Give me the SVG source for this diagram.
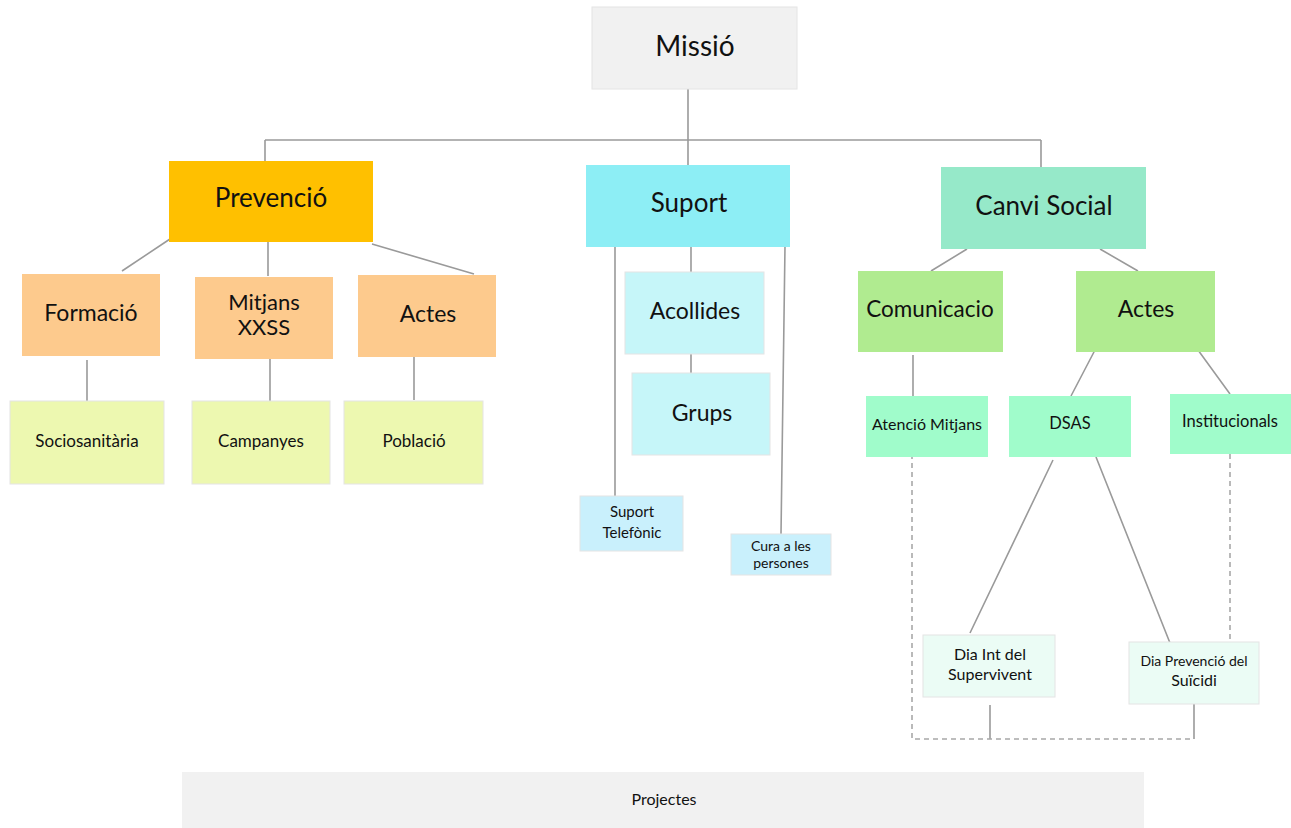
<svg xmlns="http://www.w3.org/2000/svg" width="1291" height="828" viewBox="0 0 1291 828">
<style>
text{font-family:Lato,"Noto Sans","Liberation Sans",sans-serif;fill:#111;text-anchor:middle;dominant-baseline:central}
.c{stroke:#9a9a9a;stroke-width:1.6;fill:none}
.d{stroke:#a8a8a8;stroke-width:1.6;fill:none;stroke-dasharray:5 4}
.b{stroke:#e4e4e4;stroke-width:1}
</style>
<rect width="1291" height="828" fill="#fff"/>
<g id="connectors">
<path class="c" d="M688 89V165M265 140H1041M265 140V161M1041 140V167"/>
<path class="c" d="M170 239L122 271M268 242V276M372 244L474 274"/>
<path class="c" d="M87 360V401M270 359V401M414 357V400"/>
<path class="c" d="M691 247V272M691 354V373M615 247V496M785 246L781 534"/>
<path class="c" d="M967 249L931 271M1100 249L1138 271"/>
<path class="c" d="M913 355V396M1095 350L1071 396M1198 350L1230 394"/>
<path class="c" d="M1053 460L970 633M1096 457L1170 643"/>
<path class="c" d="M990 705V739M1194 704V739"/>
<path class="d" d="M912 454V739H1194M1230 454V643"/>
</g>
<g id="missio"><rect class="b" x="592" y="7" width="205" height="82" fill="#f1f1f1"/><text x="695" y="45" font-size="28">Missió</text></g>
<g id="prevencio"><rect x="169" y="161" width="204" height="81" fill="#ffc000"/><text x="271" y="197" font-size="26">Prevenció</text></g>
<g id="suport"><rect x="586" y="165" width="204" height="82" fill="#8deef5"/><text x="689" y="202" font-size="26">Suport</text></g>
<g id="canvi"><rect x="941" y="167" width="205" height="82" fill="#96e9c9"/><text x="1044" y="205" font-size="26">Canvi Social</text></g>
<g id="formacio"><rect x="22" y="274" width="138" height="82" fill="#fdca8d"/><text x="91" y="312" font-size="23">Formació</text></g>
<g id="mitjans"><rect x="195" y="277" width="138" height="82" fill="#fdca8d"/><text x="264" y="301" font-size="22">Mitjans</text><text x="264" y="326" font-size="22">XXSS</text></g>
<g id="actes1"><rect x="358" y="275" width="138" height="82" fill="#fdca8d"/><text x="428" y="313" font-size="23">Actes</text></g>
<g id="sociosanitaria"><rect class="b" x="10" y="401" width="154" height="83" fill="#edf8b0"/><text x="87" y="440" font-size="17">Sociosanitària</text></g>
<g id="campanyes"><rect class="b" x="192" y="401" width="138" height="83" fill="#edf8b0"/><text x="261" y="440" font-size="17">Campanyes</text></g>
<g id="poblacio"><rect class="b" x="344" y="401" width="139" height="83" fill="#edf8b0"/><text x="414" y="440" font-size="17">Població</text></g>
<g id="acollides"><rect class="b" x="625" y="272" width="139" height="82" fill="#c6f6f9"/><text x="695" y="310" font-size="23">Acollides</text></g>
<g id="grups"><rect class="b" x="632" y="373" width="138" height="82" fill="#c6f6f9"/><text x="702" y="412" font-size="23">Grups</text></g>
<g id="telefonic"><rect class="b" x="580" y="496" width="103" height="55" fill="#c9f0fc"/><text x="632" y="511" font-size="15" fill="#333">Suport</text><text x="632" y="532" font-size="15">Telefònic</text></g>
<g id="cura"><rect class="b" x="731" y="534" width="100" height="41" fill="#c9f0fc"/><text x="781" y="545" font-size="14">Cura a les</text><text x="781" y="562" font-size="14">persones</text></g>
<g id="comunicacio"><rect x="858" y="271" width="145" height="81" fill="#b0eb90"/><text x="930" y="308" font-size="22.5">Comunicacio</text></g>
<g id="actes2"><rect x="1076" y="271" width="139" height="81" fill="#b0eb90"/><text x="1146" y="308" font-size="23">Actes</text></g>
<g id="atencio"><rect x="866" y="396" width="122" height="61" fill="#a0fccb"/><text x="927" y="423" font-size="16">Atenció Mitjans</text></g>
<g id="dsas"><rect x="1009" y="396" width="122" height="61" fill="#a0fccb"/><text x="1070" y="423" font-size="16.5">DSAS</text></g>
<g id="institucionals"><rect x="1170" y="394" width="121" height="60" fill="#a0fccb"/><text x="1230" y="421" font-size="16.5">Institucionals</text></g>
<g id="diaint"><rect class="b" x="923" y="635" width="132" height="62" fill="#ebfcf5"/><text x="990" y="653" font-size="16" fill="#222">Dia Int del</text><text x="990" y="673" font-size="16" fill="#222">Supervivent</text></g>
<g id="diaprev"><rect class="b" x="1129" y="642" width="130" height="62" fill="#ebfcf5"/><text x="1194" y="660" font-size="14" fill="#222">Dia Prevenció del</text><text x="1194" y="679" font-size="16" fill="#222">Suïcidi</text></g>
<g id="projectes"><rect x="182" y="772" width="962" height="56" fill="#f1f1f1"/><text x="664" y="798" font-size="16">Projectes</text></g>
</svg>
